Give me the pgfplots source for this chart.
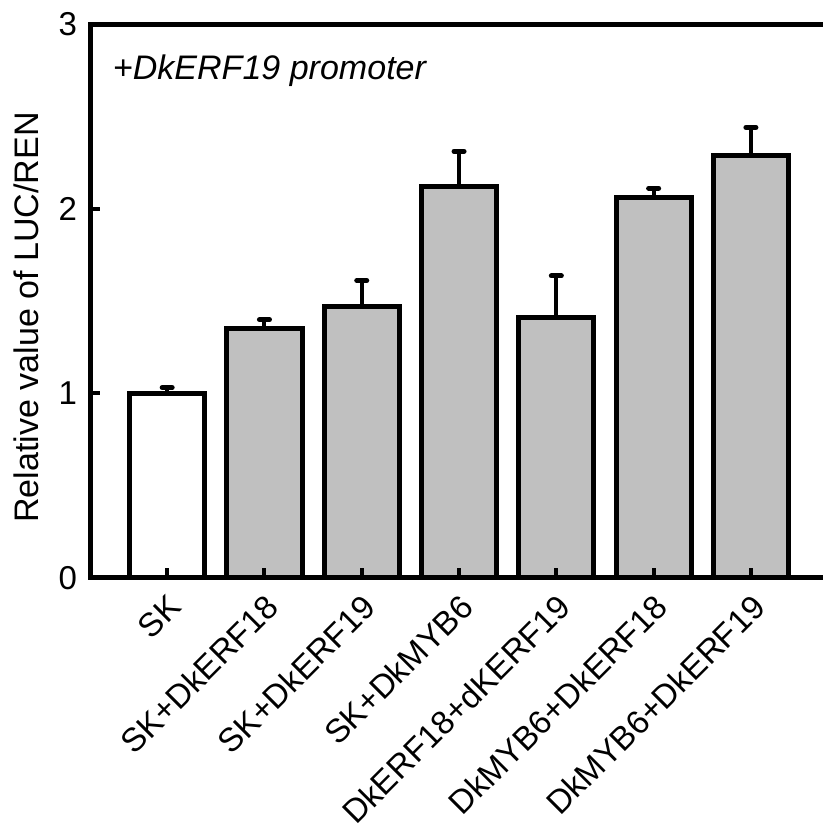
\documentclass[border=0pt]{standalone}
\usepackage{fontspec}
\setmainfont{Liberation Sans}
\usepackage{pgfplots}
\usetikzlibrary{calc}
\pgfplotsset{compat=1.18}
\definecolor{bargray}{RGB}{192,192,192}
\begin{document}
\fontsize{33}{40}\selectfont
\begin{tikzpicture}
\begin{axis}[
  scale only axis, width=729.5pt, height=553pt,
  xmin=-0.792, xmax=6.715, ymin=0, ymax=3,
  axis x line*=box, axis y line*=left,
  axis line style={line width=5pt, line cap=rect},
  xtick pos=bottom, ytick pos=left,
  tick align=inside,
  major tick length=10pt,
  tick style={line width=4pt, black},
  xtick={0,1,2,3,4,5,6},
  xticklabels={SK, SK+DkERF18, SK+DkERF19, SK+DkMYB6, DkERF18+dKERF19, DkMYB6+DkERF18, DkMYB6+DkERF19},
  ytick={0,1,2,3},
  /pgf/number format/assume math mode=true,
  tick label style={font=\fontsize{33}{40}\selectfont},
  x tick label style={rotate=45, anchor=north east, inner sep=2pt, yshift=-8pt, xshift=-9pt},
  y tick label style={inner sep=4pt, xshift=-9pt},
  ylabel={Relative value of LUC/REN},
  ylabel style={font=\fontsize{34}{40}\selectfont, at={($(rel axis cs:0,0.47)+(-52pt,0)$)}, anchor=base},
  axis on top,
  clip=false,
]
\addplot[ybar, bar shift=0pt, bar width=75pt, fill=white, draw=black, line width=5pt,
  error bars/.cd, y dir=plus, y explicit,
  error bar style={line width=4pt, black},
  error mark options={rotate=90, line width=5pt, mark size=5pt, line cap=round, black}]
  coordinates {(0,1.00) +- (0,0.03)};
\addplot[ybar, bar shift=0pt, bar width=75pt, fill=bargray, draw=black, line width=5pt,
  error bars/.cd, y dir=plus, y explicit,
  error bar style={line width=4pt, black},
  error mark options={rotate=90, line width=5pt, mark size=5pt, line cap=round, black}]
  coordinates {
    (1,1.348) +- (0,0.05)
    (2,1.47) +- (0,0.14)
    (3,2.12) +- (0,0.19)
    (4,1.41) +- (0,0.225)
    (5,2.06) +- (0,0.05)
    (6,2.29) +- (0,0.15)
  };
\node[anchor=base west, inner sep=0pt, font=\fontsize{34}{40}\selectfont\itshape] at (rel axis cs:0.031,0.9) {+DkERF19 promoter};
\path (rel axis cs:0,1) -- ++(-90pt,24pt);
\path (rel axis cs:0,0) -- ++(0pt,-255pt);
\end{axis}
\end{tikzpicture}
\end{document}
